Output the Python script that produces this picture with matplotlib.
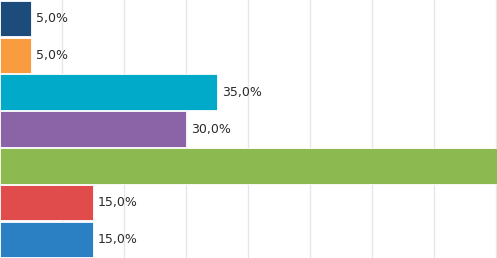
import matplotlib.pyplot as plt

# bar values in percent, top to bottom
values = [5.0, 5.0, 35.0, 30.0, 85.0, 15.0, 15.0]
labels = ["5,0%", "5,0%", "35,0%", "30,0%", "85,0%", "15,0%", "15,0%"]
colors = ["#1c4c7c", "#f99b3f", "#00aac8", "#8a64a6", "#8cba50", "#e04b4b", "#2a80c2"]

fig = plt.figure(figsize=(4.97, 2.58), dpi=100)
ax = fig.add_axes([0, 0, 1, 1])

pos = list(range(len(values)))
bars = ax.barh(pos, values, height=0.96, color=colors, edgecolor="white", linewidth=0.6, zorder=2)

for b, lab in zip(bars, labels):
    ax.annotate(lab, (b.get_width(), b.get_y() + b.get_height() / 2),
                xytext=(3.6, 0), textcoords="offset points",
                va="center", ha="left", fontsize=9, color="#2b2b2b",
                annotation_clip=True)

ax.set_xlim(0, 80.16)
ax.set_ylim(6.5, -0.5)
ax.set_xticks(range(10, 81, 10))
ax.grid(axis="x", color="#e6e6e6", linewidth=1.0, zorder=0)
ax.tick_params(left=False, bottom=False, labelleft=False, labelbottom=False)
for s in ax.spines.values():
    s.set_visible(False)

fig.savefig("out.png", dpi=100)
